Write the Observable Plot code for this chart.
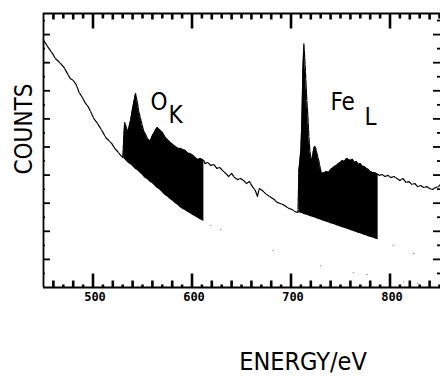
<!DOCTYPE html>
<html><head><meta charset="utf-8">
<script src="https://cdn.jsdelivr.net/npm/d3@7"></script>
<script src="https://cdn.jsdelivr.net/npm/@observablehq/plot@0.6"></script>
<style>
html,body{margin:0;padding:0;background:#fff;}
#chart{width:440px;height:377px;}
</style></head><body><div id="chart"></div>
<script>
// Spectrum: pre-edge background line
const preE = [450,452,454,456,459,462,465,468,471,474,477,480,483,486,489,492,495,498,501,504,507,510,513,516,519,522,525,528,530];
const preC = [879,870,858,848,833,815,805,794,782,762,744,737,722,694,678,658,644,623,600,587,570,552,533,523,512,495,483,470,463];
// O K edge window: spectrum top and extrapolated background
const oE   = [531,532,533,535,536,538,540,541,543,545,546,548,550,551,553,555,557,558,560,562,564,565,567,570,573,576,578,581,583,586,588,591,593,596,598,601,603,606,608,610,612];
const oTop = [523,587,577,552,566,594,637,655,690,655,630,601,573,559,545,530,523,523,540,552,566,569,562,552,534,523,516,508,502,495,495,490,488,477,477,470,463,455,459,456,452];
const oBg  = [459,456,452,445,441,438,431,427,420,416,413,406,399,395,388,384,377,374,370,363,356,352,349,338,327,320,313,306,299,292,285,278,274,267,263,256,253,246,242,238,235];
// between edges
const midE = [613,616,619,622,625,628,631,634,637,640,643,646,649,652,655,658,661,664,666,668,671,674,677,680,683,686,689,692,695,698,701,704,707];
const midC = [441,445,434,438,424,427,416,406,395,406,391,384,388,381,370,377,359,345,324,352,345,335,327,320,313,303,299,295,288,281,278,270,267];
// Fe L edge window
const feE   = [708,709,710,711,712,713,714,715,716,717,718,719,720,721,722,723,724,725,726,727,728,729,730,731,732,734,736,738,740,742,744,746,748,750,752,754,756,758,760,762,764,766,768,770,772,774,776,778,780,782,784,786,788];
const feTop = [416,452,488,594,772,868,808,737,666,612,541,488,463,452,470,495,502,495,480,466,452,434,416,409,406,409,413,409,420,424,431,434,441,445,452,448,459,456,452,456,445,448,438,441,431,431,424,420,413,409,409,406,402];
const feBg  = [267,265,264,263,262,260,259,258,257,256,254,253,252,251,250,248,247,246,245,244,242,241,240,238,237,235,232,230,227,225,223,220,218,215,213,211,208,206,203,201,198,196,193,191,189,186,184,181,179,177,174,172,170];
// after Fe edge
const postE = [789,792,795,798,801,804,807,810,813,816,819,822,825,828,831,834,837,840,843,846,849,851];
const postC = [399,402,395,399,391,395,388,381,388,374,377,367,370,359,363,356,359,352,349,356,359,367];
// faint specks below
const speckE = [619,629,682,730,763,777,803,814,824,828];
const speckC = [221,206,132,78,53,46,149,21,121,14];
// labels
const xLabelTicks = [500,600,700,800];
const xDomain = [450,851];
const yDomain = [0,975];
const annText = ["O","K","Fe","L"];
const annE = [558,576.3,739.9,774.2];
const annC = [630,584,630,577];

const W=440,H=377,mL=43,mR=0,mT=13,mB=90;
const fw=W-mL-mR, fh=H-mT-mB;
const cpp=(yDomain[1]-yDomain[0])/fh;   // counts per pixel, for tick lengths
const rows=(E,C)=>E.map((e,i)=>({e,c:C[i]}));
const spectrum=[...rows(preE,preC),...rows(oE,oTop),...rows(midE,midC),...rows(feE,feTop),...rows(postE,postC)];
const oWin=oE.map((e,i)=>({e,top:oTop[i],bg:oBg[i]}));
const feWin=feE.map((e,i)=>({e,top:feTop[i],bg:feBg[i]}));
const specks=rows(speckE,speckC);
const ann=annText.map((t,i)=>({t,e:annE[i],c:annC[i]}));

const xTicks=d3.range(460,851,10);
const len=v=>v%100===0?[14,15]:v%20===0?[7,6]:[3,5];
const xTickRows=xTicks.flatMap(v=>[
  {x1:v,x2:v,y1:yDomain[0],y2:yDomain[0]+len(v)[0]*cpp},
  {x1:v,x2:v,y1:yDomain[1]-len(v)[1]*cpp,y2:yDomain[1]}
]);
const yMaj=d3.range(100,901,100), yMin=d3.range(50,951,100);

const tk={stroke:"black",strokeWidth:1.8};
const labelFont='"DejaVu Sans Condensed","Liberation Sans Narrow","DejaVu Sans",sans-serif';

const chart=Plot.plot({
  width:W,height:H,marginLeft:mL,marginRight:mR,marginTop:mT,marginBottom:mB,
  x:{domain:xDomain,axis:null},
  y:{domain:yDomain,axis:null},
  marks:[
    Plot.areaY(oWin,{x:"e",y1:"bg",y2:"top",fill:"black"}),
    Plot.areaY(feWin,{x:"e",y1:"bg",y2:"top",fill:"black"}),
    Plot.line(spectrum,{x:"e",y:"c",stroke:"black",strokeWidth:1.2,strokeDasharray:"6,1.2"}),
    Plot.dot(specks,{x:"e",y:"c",r:0.7,fill:"#888",stroke:null}),
    // frame
    Plot.ruleX([xDomain[0]],{stroke:"black",strokeWidth:1.8}),
    Plot.ruleY(yDomain,{stroke:"black",strokeWidth:1.8}),
    // top & bottom ticks (inward)
    Plot.link(xTickRows,{x1:"x1",x2:"x2",y1:"y1",y2:"y2",stroke:"black",strokeWidth:2.6}),
    // left ticks
    Plot.ruleY(yMaj,{y:d=>d,insetRight:fw-7,...tk}),
    Plot.ruleY(yMin,{y:d=>d,insetRight:fw-2,...tk}),
    // right ticks
    Plot.ruleY(yMaj,{y:d=>d,insetLeft:fw-7,...tk}),
    Plot.ruleY(yMin,{y:d=>d,insetLeft:fw-3,...tk}),
    // x tick labels
    Plot.text(xLabelTicks,{x:d=>d,text:d=>String(d),frameAnchor:"bottom",lineAnchor:"top",dy:5,dx:2,
      fontFamily:'"DejaVu Sans Mono",monospace',fontWeight:"bold",fontSize:12,fill:"black",
      style:"letter-spacing:2.5px"}),
    // annotations
    Plot.text(ann,{x:"e",y:"c",text:"t",textAnchor:"start",lineAnchor:"bottom",fontFamily:labelFont,fontSize:24,fill:"black"}),
    // axis titles
    Plot.text(["COUNTS"],{text:d=>d,frameAnchor:"left",rotate:-90,dx:-19,dy:24,fontFamily:labelFont,fontSize:24,fill:"black",style:"letter-spacing:1px"}),
    Plot.text(["ENERGY/eV"],{text:d=>d,frameAnchor:"bottom",lineAnchor:"bottom",dx:61,dy:82,fontFamily:labelFont,fontSize:25,fill:"black",style:"letter-spacing:1.5px"})
  ]
});
document.getElementById("chart").appendChild(chart);
</script></body></html>
